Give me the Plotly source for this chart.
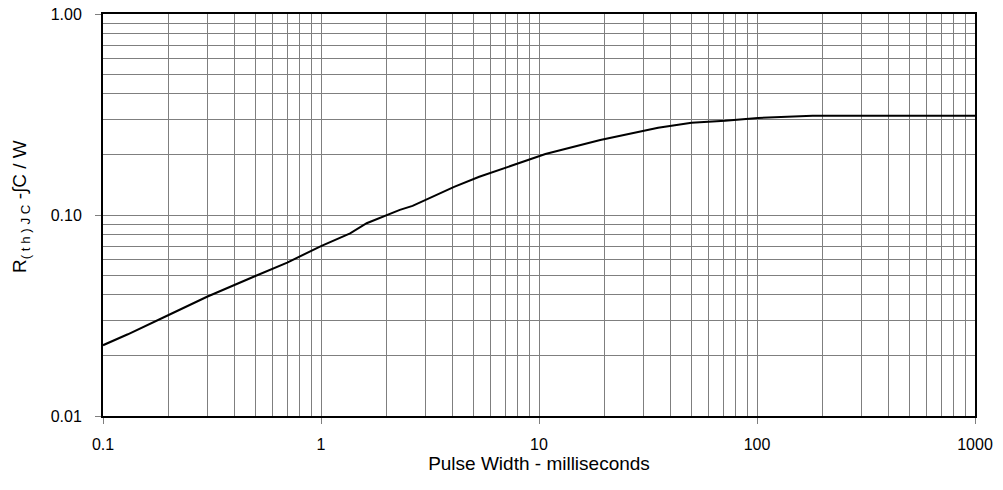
import plotly.graph_objects as go

pulse_ms = [0.1, 0.13, 0.2, 0.3, 0.5, 0.7, 1.0, 1.36, 1.62, 2.3, 2.63, 4.08, 5.32, 9.0, 10.7, 19.1, 35.2, 50.1, 71.3, 101, 180, 1000]
rth = [0.0225, 0.0255, 0.0318, 0.0392, 0.0497, 0.058, 0.070, 0.081, 0.091, 0.106, 0.111, 0.138, 0.155, 0.188, 0.201, 0.236, 0.272, 0.288, 0.294, 0.304, 0.312, 0.312]

x_ticks = [0.1, 1, 10, 100, 1000]
x_labels = ["0.1", "1", "10", "100", "1000"]
y_ticks = [0.01, 0.1, 1.0]
y_labels = ["0.01", "0.10", "1.00"]

x_minor = [m * d for d in [0.1, 1, 10, 100] for m in range(2, 10)]
y_minor = [m * d for d in [0.01, 0.1] for m in range(2, 10)]

fig = go.Figure()
fig.add_trace(go.Scatter(x=pulse_ms, y=rth, mode="lines",
                         line=dict(color="black", width=2), showlegend=False))

font = dict(family="Liberation Sans, Arial, sans-serif", color="black")
grid = "#7f7f7f"
L, R, T, B = 103, 28, 14, 74
W, H = 1003, 490
pw, ph = W - L - R, H - T - B

nb = "\u00a0"
y_title = "R<sub>(" + nb + "t" + nb + "h" + nb + ")" + nb + "J" + nb + "C</sub>" + nb + "-∫C / W"

fig.update_layout(
    width=W, height=H,
    margin=dict(l=L, r=R, t=T, b=B, autoexpand=False),
    plot_bgcolor="white", paper_bgcolor="white",
    font=font,
    xaxis=dict(
        type="log", range=[-1, 3], automargin=False,
        tickmode="array", tickvals=x_ticks, ticktext=x_labels,
        ticks="outside", ticklen=6, tickcolor=grid, tickwidth=1,
        tickfont=dict(size=16), ticklabelstandoff=7,
        showgrid=True, gridcolor=grid, gridwidth=1,
        minor=dict(tickmode="array", tickvals=x_minor, showgrid=True, gridcolor=grid, gridwidth=1, ticks=""),
        showline=True, linecolor="black", linewidth=2, mirror=True,
        zeroline=False,
        title=dict(text="Pulse Width - milliseconds", font=dict(size=19), standoff=4),
    ),
    yaxis=dict(
        type="log", range=[-2, 0], automargin=False,
        tickmode="array", tickvals=y_ticks, ticktext=y_labels,
        ticks="outside", ticklen=6, tickcolor=grid, tickwidth=1,
        tickfont=dict(size=16), ticklabelstandoff=10,
        showgrid=True, gridcolor=grid, gridwidth=1,
        minor=dict(tickmode="array", tickvals=y_minor, showgrid=True, gridcolor=grid, gridwidth=1, ticks=""),
        showline=True, linecolor="black", linewidth=2, mirror=True,
        zeroline=False,
    ),
    annotations=[dict(
        text=y_title, textangle=-90, showarrow=False,
        xref="paper", yref="paper",
        x=(21 - L) / pw, y=(H - B - 207) / ph,
        xanchor="center", yanchor="middle",
        font=dict(size=19),
    )],
)

fig.write_html("out.html", post_script="document.body.style.margin='0';",
               config={"displayModeBar": False})
